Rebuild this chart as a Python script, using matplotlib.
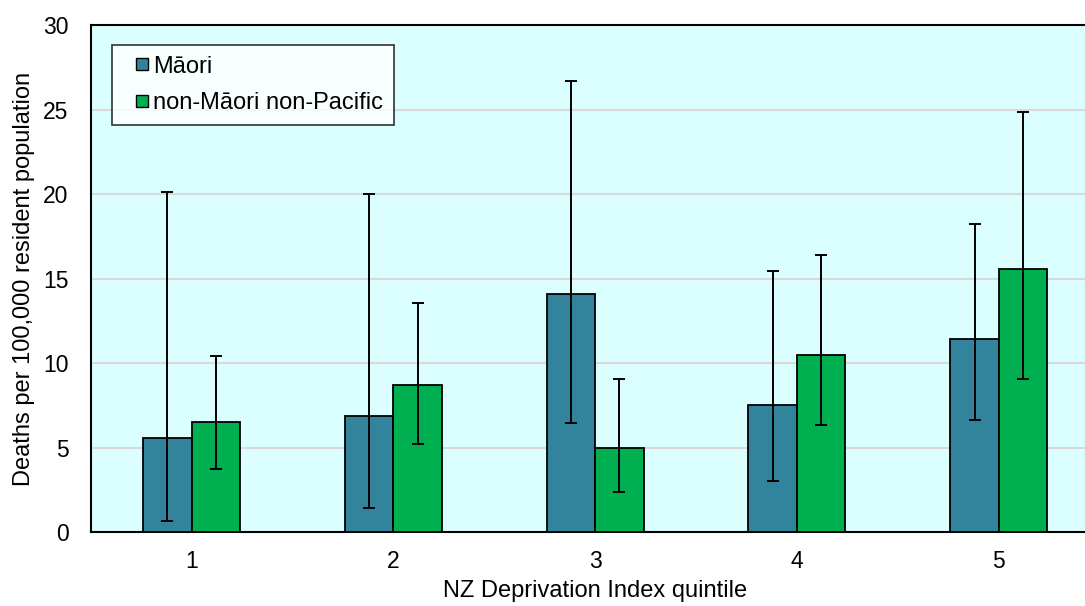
import matplotlib
matplotlib.use("Agg")
import matplotlib.pyplot as plt
from matplotlib.lines import Line2D
import numpy as np

plt.rcParams['font.family'] = ['Liberation Sans', 'DejaVu Sans']

categories = ["1", "2", "3", "4", "5"]
maori = [5.56, 6.86, 14.1, 7.5, 11.4]
maori_lo = [0.65, 1.42, 6.45, 3.0, 6.65]
maori_hi = [20.15, 20.0, 26.7, 15.45, 18.25]
nmnp = [6.5, 8.7, 4.97, 10.5, 15.55]
nmnp_lo = [3.75, 5.2, 2.35, 6.35, 9.05]
nmnp_hi = [10.4, 13.55, 9.05, 16.4, 24.85]
series_names = ['Māori', 'non-Māori non-Pacific']
colors = ['#31849B', '#00B050']

FS = 17

fig = plt.figure(figsize=(10.85, 6.06), dpi=100)
ax = fig.add_axes([0.0835, 0.122, 0.93, 0.8365])
ax.set_facecolor('#DBFFFF')

x = np.arange(len(categories))
w = 0.24
m = np.array(maori); n = np.array(nmnp)
ax.bar(x - w/2, m, w, color=colors[0], edgecolor='black', linewidth=1.3, zorder=3)
ax.bar(x + w/2, n, w, color=colors[1], edgecolor='black', linewidth=1.3, zorder=3)
ax.errorbar(x - w/2, m, yerr=[m - np.array(maori_lo), np.array(maori_hi) - m], fmt='none',
            ecolor='black', elinewidth=1.4, capsize=4.3, capthick=1.4, zorder=4)
ax.errorbar(x + w/2, n, yerr=[n - np.array(nmnp_lo), np.array(nmnp_hi) - n], fmt='none',
            ecolor='black', elinewidth=1.4, capsize=4.3, capthick=1.4, zorder=4)

ax.set_xlim(-0.5, 4.5)
ax.set_ylim(0, 30)
ax.set_yticks(range(0, 31, 5))
ax.set_xticks(x)
ax.set_xticklabels(categories)
ax.tick_params(axis='both', length=0, labelsize=16.5)
ax.tick_params(axis='y', pad=16)
ax.tick_params(axis='x', pad=13)
ax.yaxis.grid(True, color='#D9D9D9', linewidth=1.5, zorder=0)
ax.set_axisbelow(True)
for s in ax.spines.values():
    s.set_color('black'); s.set_linewidth(1.5)

ax.set_ylabel('Deaths per 100,000 resident population', fontsize=FS, labelpad=6)
ax.set_xlabel('NZ Deprivation Index quintile', fontsize=FS, labelpad=5)

handles = [Line2D([], [], linestyle='none', marker='s', markersize=9.2,
                  markerfacecolor=c, markeredgecolor='black', markeredgewidth=1.0)
           for c in colors]
leg = ax.legend(handles, series_names, loc='upper left', bbox_to_anchor=(0.021, 0.961),
                fontsize=FS, frameon=True, fancybox=False, edgecolor='black',
                handlelength=1.62, handletextpad=-0.31, borderpad=0.45,
                labelspacing=0.62, borderaxespad=0, numpoints=1)
leg.get_frame().set_linewidth(1.2)
leg.get_frame().set_facecolor('white')

fig.savefig('out.png', dpi=100)
